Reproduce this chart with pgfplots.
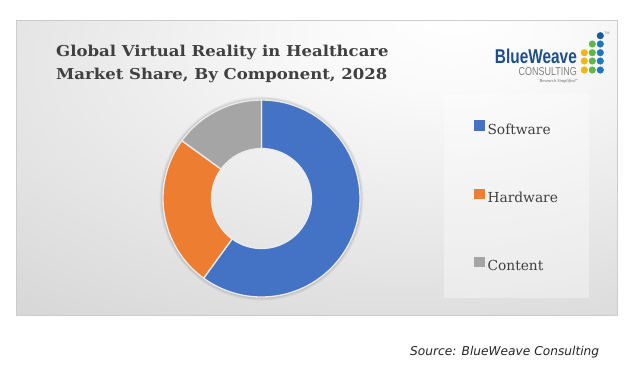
\documentclass[border=0pt]{standalone}
\usepackage{pgfplots}
\pgfplotsset{compat=1.18}
\usepackage{pgfplotstable}
\usepackage{fontspec}
\setmainfont{DejaVu Serif}
\newfontfamily\srcfont{DejaVu Sans}
\newfontfamily\logofont{Liberation Sans}
\newfontfamily\tagfont{Liberation Serif}

\definecolor{swblue}{HTML}{4472C4}
\definecolor{hworange}{HTML}{ED7D31}
\definecolor{ctgray}{HTML}{A5A5A5}
\definecolor{txt}{HTML}{404040}
\definecolor{logoblue}{HTML}{1F4E8C}
\definecolor{logogray}{HTML}{808080}
\definecolor{dotyellow}{HTML}{F4B41A}
\definecolor{dotgreen}{HTML}{5DB848}
\definecolor{dotblue}{HTML}{1F77C0}
\definecolor{dotdark}{HTML}{1A5A9E}

\pgfdeclareradialshading{panelshade}{\pgfpoint{12bp}{26bp}}{%
  color(0bp)=(white);
  color(10bp)=(white!98!black);
  color(50bp)=(black!16);
  color(100bp)=(black!28)}

\pgfplotstableread{
component share
Software 60
Hardware 25
Content 15
}\sharetable

\begin{document}
\begin{tikzpicture}
\pgfplotstablegetelem{0}{share}\of\sharetable \pgfmathsetmacro\sA{\pgfplotsretval}
\pgfplotstablegetelem{1}{share}\of\sharetable \pgfmathsetmacro\sB{\pgfplotsretval}
\pgfplotstablegetelem{2}{share}\of\sharetable \pgfmathsetmacro\sC{\pgfplotsretval}
\pgfmathsetmacro\tot{\sA+\sB+\sC}
\pgfmathsetmacro\aA{90}
\pgfmathsetmacro\aB{90-\sA/\tot*360}
\pgfmathsetmacro\aC{\aB-\sB/\tot*360}
\pgfmathsetmacro\aD{\aC-\sC/\tot*360}
\def\Ro{98.5pt}
\def\Ri{50pt}
\begin{axis}[
  x=1pt, y=1pt, xmin=0, xmax=642, ymin=0, ymax=381,
  y dir=reverse, hide axis, scale only axis, clip=false,
  legend style={at={(axis cs:474,195.7)}, anchor=west, draw=none, fill=none,
    inner sep=0pt, row sep=53.7pt,
    nodes={inner sep=0pt, text height=9.5pt, text depth=0pt, font=\fontsize{13.8}{13.8}\selectfont, text=txt},
    /tikz/every odd column/.style={column sep=3.5pt}},
  legend cell align=left,
]
% page and panel
\fill[white] (axis cs:0,0) rectangle (axis cs:642,381);
\shade[shading=panelshade] (axis cs:16,20) rectangle (axis cs:617,315);
\draw[black!20, line width=0.6pt] (axis cs:16,20) rectangle (axis cs:617,315);
% legend box
\fill[white, opacity=0.35] (axis cs:444,94) rectangle (axis cs:589,298);
% soft shadow around donut
\draw[black, opacity=0.04, line width=6pt] (axis cs:261.5,198.5) circle[radius=99pt];
\draw[black, opacity=0.05, line width=4pt] (axis cs:261.5,198.5) circle[radius=99pt];
\draw[black, opacity=0.06, line width=2pt] (axis cs:261.5,198.5) circle[radius=99pt];
% donut slices
\fill[swblue, draw=white!92!black, line width=1.3pt]
  ([shift={(\aA:\Ro)}]axis cs:261.5,198.5) arc[start angle=\aA, end angle=\aB, radius=\Ro]
  -- ([shift={(\aB:\Ri)}]axis cs:261.5,198.5) arc[start angle=\aB, end angle=\aA, radius=\Ri] -- cycle;
\fill[hworange, draw=white!92!black, line width=1.3pt]
  ([shift={(\aB:\Ro)}]axis cs:261.5,198.5) arc[start angle=\aB, end angle=\aC, radius=\Ro]
  -- ([shift={(\aC:\Ri)}]axis cs:261.5,198.5) arc[start angle=\aC, end angle=\aB, radius=\Ri] -- cycle;
\fill[ctgray, draw=white!92!black, line width=1.3pt]
  ([shift={(\aC:\Ro)}]axis cs:261.5,198.5) arc[start angle=\aC, end angle=\aD, radius=\Ro]
  -- ([shift={(\aD:\Ri)}]axis cs:261.5,198.5) arc[start angle=\aD, end angle=\aC, radius=\Ri] -- cycle;
% title
\node[anchor=base west, inner sep=0pt, text=txt, font=\bfseries\fontsize{15}{15}\selectfont, xscale=1.1] at (axis cs:56,56) {Global Virtual Reality in Healthcare};
\node[anchor=base west, inner sep=0pt, text=txt, font=\bfseries\fontsize{15}{15}\selectfont, xscale=1.1] at (axis cs:56,79) {Market Share, By Component, 2028};
% logo
\node[anchor=base east, inner sep=0pt, text=logoblue, font=\logofont\bfseries\fontsize{20}{20}\selectfont, xscale=0.77] at (axis cs:577,63) {BlueWeave};
\node[anchor=base east, inner sep=0pt, text=logogray, font=\logofont\fontsize{11.5}{11.5}\selectfont, xscale=0.78] at (axis cs:577,75) {CONSULTING};
\node[anchor=base, inner sep=0pt, text=logogray!80!black, font=\tagfont\itshape\fontsize{4.5}{4.5}\selectfont] at (axis cs:557,82) {``Research Simplified''};
\node[anchor=base, inner sep=0pt, text=logogray, font=\logofont\fontsize{3.5}{3.5}\selectfont] at (axis cs:607,34) {TM};
\addplot[only marks, mark=*, mark size=3.3pt, color=dotyellow, forget plot] coordinates {(584.3,52.7) (584.3,61) (584.3,70)};
\addplot[only marks, mark=*, mark size=3.3pt, color=dotgreen, forget plot] coordinates {(592.3,44) (592.3,52.7) (592.3,61) (592.3,70)};
\addplot[only marks, mark=*, mark size=3.3pt, color=dotblue, forget plot] coordinates {(600.3,44) (600.3,52.7) (600.3,61) (600.3,70)};
\addplot[only marks, mark=*, mark size=3.3pt, color=dotdark, forget plot] coordinates {(600.3,35.7)};
% source
\node[anchor=base west, inner sep=0pt, text=black!85, font=\srcfont\itshape\fontsize{12.2}{12.2}\selectfont] at (axis cs:410,355) {Source: BlueWeave Consulting};
% legend
\addlegendimage{legend image code/.code={\fill[swblue] (0pt,0pt) rectangle (9.4pt,9.4pt);}}
\addlegendentry{Software}
\addlegendimage{legend image code/.code={\fill[hworange] (0pt,0pt) rectangle (9.4pt,9.4pt);}}
\addlegendentry{Hardware}
\addlegendimage{legend image code/.code={\fill[ctgray] (0pt,0pt) rectangle (9.4pt,9.4pt);}}
\addlegendentry{Content}
\end{axis}
\end{tikzpicture}
\end{document}
